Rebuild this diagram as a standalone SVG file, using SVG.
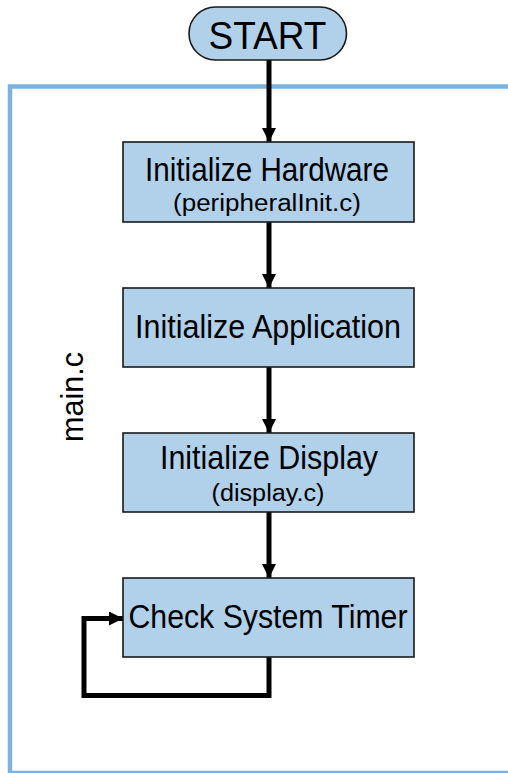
<svg xmlns="http://www.w3.org/2000/svg" width="508" height="773" viewBox="0 0 508 773">
  <style>
    .frame { fill: none; stroke: #7db2de; stroke-width: 4.5; }
    .step { fill: #b1d0ea; stroke: #1a1a1a; stroke-width: 1.6; }
    .lbl { font-family: "Liberation Sans", Arial, Helvetica, sans-serif; fill: #000; text-anchor: middle; }
    .wire { fill: none; stroke: #000; stroke-width: 5; stroke-linejoin: miter; }
  </style>
  <defs>
    <marker id="arrow" markerUnits="userSpaceOnUse" markerWidth="14" markerHeight="14" viewBox="0 0 14 14" refX="14" refY="7" orient="auto">
      <path d="M0,0 L14,7 L0,14 Z" fill="#000"/>
    </marker>
  </defs>

  <!-- main.c scope -->
  <g id="scope-main">
    <rect class="frame" x="10" y="86.5" width="540" height="686.5"/>
    <text class="lbl" font-size="31" textLength="90" lengthAdjust="spacingAndGlyphs" transform="translate(83,397) rotate(-90)">main.c</text>
  </g>

  <!-- connectors -->
  <g id="connectors">
    <path class="wire" d="M269,60 L269,142" marker-end="url(#arrow)"/>
    <path class="wire" d="M269,222 L269,288" marker-end="url(#arrow)"/>
    <path class="wire" d="M269,367 L269,433" marker-end="url(#arrow)"/>
    <path class="wire" d="M269,512 L269,578" marker-end="url(#arrow)"/>
    <path class="wire" d="M269,657 L269,695.5 L84,695.5 L84,618.5 L123,618.5" marker-end="url(#arrow)"/>
  </g>

  <g id="start">
    <rect class="step" x="189" y="7" width="157.5" height="53" rx="26.5" ry="26.5"/>
    <text class="lbl" x="267.5" y="48.5" font-size="39" textLength="118" lengthAdjust="spacingAndGlyphs">START</text>
  </g>

  <g id="init-hardware">
    <rect class="step" x="123" y="142" width="291" height="80"/>
    <text class="lbl" x="267" y="180.5" font-size="33" textLength="244" lengthAdjust="spacingAndGlyphs">Initialize Hardware</text>
    <text class="lbl" x="267" y="211" font-size="23" textLength="188" lengthAdjust="spacingAndGlyphs">(peripheralInit.c)</text>
  </g>

  <g id="init-application">
    <rect class="step" x="123" y="288" width="291" height="79"/>
    <text class="lbl" x="268" y="338" font-size="33" textLength="266" lengthAdjust="spacingAndGlyphs">Initialize Application</text>
  </g>

  <g id="init-display">
    <rect class="step" x="123" y="433" width="291" height="79"/>
    <text class="lbl" x="269" y="469" font-size="33" textLength="218" lengthAdjust="spacingAndGlyphs">Initialize Display</text>
    <text class="lbl" x="268" y="501" font-size="23" textLength="113" lengthAdjust="spacingAndGlyphs">(display.c)</text>
  </g>

  <g id="check-timer">
    <rect class="step" x="123" y="578" width="291" height="79"/>
    <text class="lbl" x="268" y="628" font-size="33" textLength="279" lengthAdjust="spacingAndGlyphs">Check System Timer</text>
  </g>
</svg>
